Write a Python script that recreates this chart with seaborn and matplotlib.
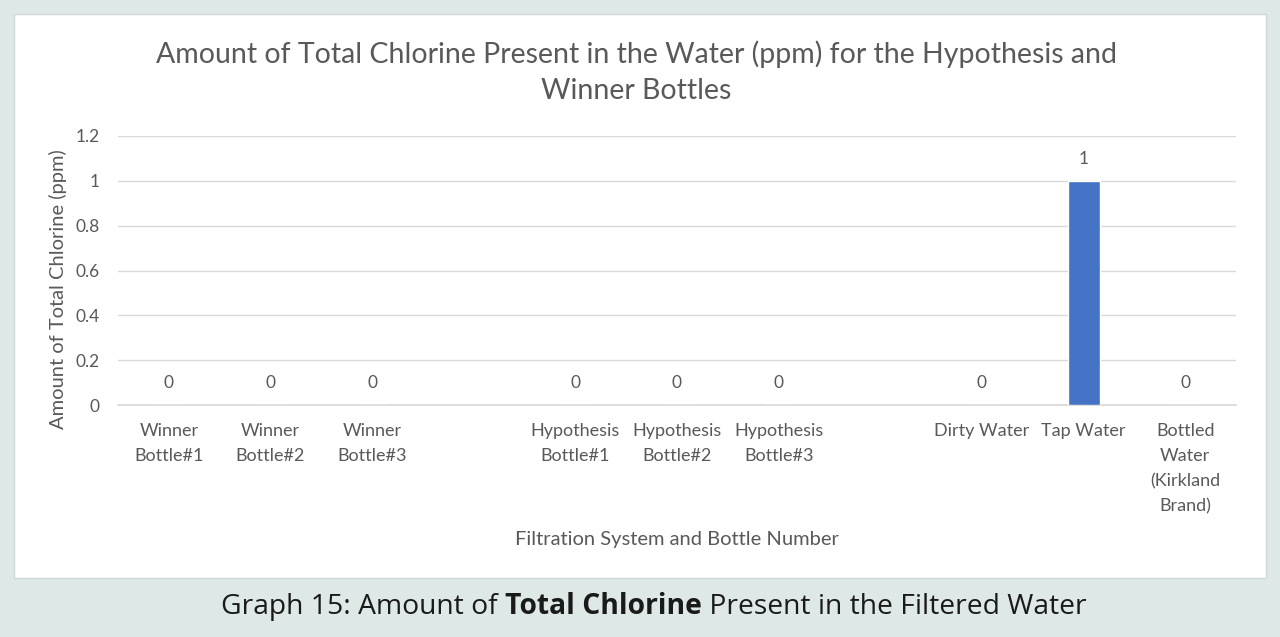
import numpy as np
import pandas as pd
import seaborn as sns
import matplotlib.pyplot as plt
from matplotlib.patches import Rectangle

sns.set_theme(style="white")
plt.rcParams['font.family'] = ['Lato', 'DejaVu Sans']

categories = ['Winner\nBottle#1', 'Winner\nBottle#2', 'Winner\nBottle#3',
              'Hypothesis\nBottle#1', 'Hypothesis\nBottle#2', 'Hypothesis\nBottle#3',
              'Dirty Water', 'Tap Water', 'Bottled\nWater\n(Kirkland\nBrand)']
chlorine = [0, 0, 0, 0, 0, 0, 0, 1, 0]
# empty slots between the groups
order = categories[:3] + ['gap1'] + categories[3:6] + ['gap2'] + categories[6:]
yticks = [0, 0.2, 0.4, 0.6, 0.8, 1, 1.2]

df = pd.DataFrame({'bottle': categories, 'ppm': chlorine})

grey = '#595959'
fig = plt.figure(figsize=(12.8, 6.37), dpi=100)
fig.patch.set_facecolor('#dee8e7')
fig.patches.append(Rectangle((14 / 1280, 1 - 578 / 637), 1252 / 1280, 564 / 637,
                             transform=fig.transFigure, facecolor='white',
                             edgecolor='#d0d8d8', linewidth=1, zorder=-5))

ax = fig.add_axes([118 / 1280, 1 - 405 / 637, 1118 / 1280, 269 / 637])
ax.set_facecolor('none')
sns.barplot(data=df, x='bottle', y='ppm', order=order, color='#4472c4',
            width=0.315, saturation=1, ax=ax, zorder=3)

for i, name in enumerate(order):
    if name in categories:
        v = chlorine[categories.index(name)]
        ax.annotate(f'{v:g}', (i, v), xytext=(0, 16), textcoords='offset points',
                    ha='center', va='center', fontsize=12.5, color=grey)

ax.set_ylim(0, 1.2)
ax.set_yticks(yticks)
ax.set_yticklabels([f'{t:g}' for t in yticks])
ax.set_xlim(-0.5, len(order) - 0.5)
ax.set_xticks(range(len(order)))
ax.set_xticklabels(['' if n.startswith('gap') else n for n in order], linespacing=1.68,
                   va='top')
ax.tick_params(axis='x', length=0, pad=13, labelsize=13, labelcolor=grey)
ax.tick_params(axis='y', length=0, pad=13, labelsize=12.5, labelcolor=grey)
ax.grid(axis='y', color='#d9d9d9', linewidth=1)
for s in ['top', 'right', 'left']:
    ax.spines[s].set_visible(False)
ax.spines['bottom'].set_color('#d9d9d9')

ax.set_xlabel('Filtration System and Bottle Number', fontsize=14.5, color=grey, labelpad=0)
ax.xaxis.set_label_coords(0.5, -0.468)
ax.set_ylabel('Amount of Total Chlorine (ppm)', fontsize=14.5, color=grey)
ax.yaxis.set_label_coords(-0.0456, 0.43)

fig.text(0.497, 1 - 72 / 637,
         'Amount of Total Chlorine Present in the Water (ppm) for the Hypothesis and\nWinner Bottles',
         ha='center', va='center', fontsize=20.5, color=grey, linespacing=1.5)

# caption with bold part
parts = [('Graph 15: Amount of ', 'normal'), ('Total Chlorine', 'bold'),
         (' Present in the Filtered Water', 'normal')]
renderer = fig.canvas.get_renderer()
texts = []
for txt, w in parts:
    t = fig.text(0, 1 - 607 / 637, txt, fontsize=20.3, fontweight=w, color='#1a1a1a',
                 family=['Open Sans', 'DejaVu Sans'], va='center', ha='left')
    texts.append(t)
widths = [t.get_window_extent(renderer).width for t in texts]
x = 654 - sum(widths) / 2
for t, wd in zip(texts, widths):
    t.set_x(x / 1280)
    x += wd

fig.savefig('out.png', dpi=100, facecolor=fig.get_facecolor())
